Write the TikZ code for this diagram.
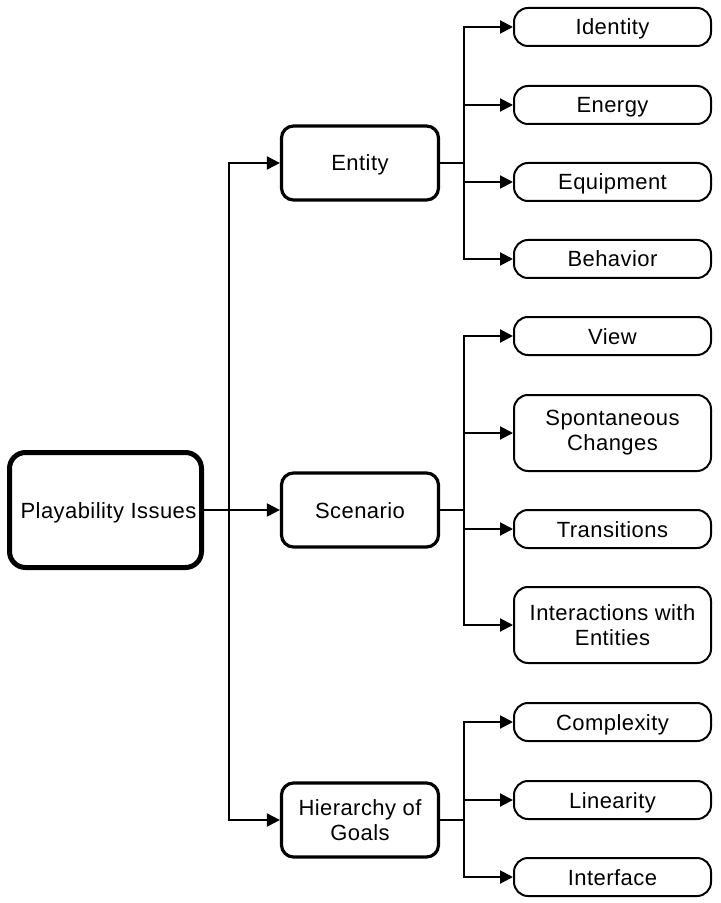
\documentclass[tikz,border=0pt]{standalone}
\usepackage{fontspec}
\setmainfont{Liberation Sans}[LetterSpace=2.0]
\usetikzlibrary{arrows.meta}
\begin{document}
\begin{tikzpicture}[x=0.5pt,y=-0.5pt,
    every node/.style={font=\fontsize{11}{12.5}\selectfont, align=center, inner sep=0pt},
    oneline/.style={text height=10pt, text depth=2pt},
    rootbox/.style={draw, oneline, line width=2.5pt, rounded corners=8pt, minimum width=96pt, minimum height=57.5pt},
    midbox/.style={draw, line width=1.6pt, rounded corners=6pt, minimum width=78.5pt, minimum height=37pt},
    leafbox/.style={draw, line width=1pt, rounded corners=7pt, minimum width=98.5pt, minimum height=19pt},
    tallleaf/.style={leafbox, minimum height=38pt},
    link/.style={line width=1pt},
    arr/.style={link, -{Triangle[length=6.5pt,width=6.5pt]}}]
    \useasboundingbox (0,0) rectangle (720,903);
    \node[rootbox] (issues) at (105.5,510) {\hspace*{3pt}Playability Issues};
    \node[midbox, oneline] (entity) at (360,163) {Entity};
    \node[midbox, oneline] (scenario) at (360,510) {Scenario};
    \node[midbox] (goals) at (360,820) {Hierarchy of\\Goals};
    \node[leafbox, oneline] (identity) at (612.5,27) {Identity};
    \node[leafbox, oneline] (energy) at (612.5,105) {Energy};
    \node[leafbox, oneline] (equipment) at (612.5,182) {Equipment};
    \node[leafbox, oneline] (behavior) at (612.5,259) {Behavior};
    \node[leafbox, oneline] (view) at (612.5,336) {View};
    \node[tallleaf] (spontaneous) at (612.5,433) {Spontaneous\\Changes};
    \node[leafbox, oneline] (transitions) at (612.5,529) {Transitions};
    \node[tallleaf] (interactions) at (612.5,625) {Interactions with\\Entities};
    \node[leafbox, oneline] (complexity) at (612.5,722) {Complexity};
    \node[leafbox, oneline] (linearity) at (612.5,800) {Linearity};
    \node[leafbox, oneline] (interface) at (612.5,877) {Interface};
    \coordinate (trunk) at (229,510);
    \coordinate (entityfork) at (464,163);
    \coordinate (scenariofork) at (464,510);
    \coordinate (goalsfork) at (464,820);
    \draw[arr] (issues.east) -- (scenario.west);
    \draw[arr] (trunk) |- (entity.west);
    \draw[arr] (trunk) |- (goals.west);
    \draw[link] (entity.east) -- (entityfork);
    \draw[arr] (entityfork) |- (identity.west);
    \draw[arr] (entityfork) |- (energy.west);
    \draw[arr] (entityfork) |- (equipment.west);
    \draw[arr] (entityfork) |- (behavior.west);
    \draw[link] (scenario.east) -- (scenariofork);
    \draw[arr] (scenariofork) |- (view.west);
    \draw[arr] (scenariofork) |- (spontaneous.west);
    \draw[arr] (scenariofork) |- (transitions.west);
    \draw[arr] (scenariofork) |- (interactions.west);
    \draw[link] (goals.east) -- (goalsfork);
    \draw[arr] (goalsfork) |- (complexity.west);
    \draw[arr] (goalsfork) |- (linearity.west);
    \draw[arr] (goalsfork) |- (interface.west);
\end{tikzpicture}
\end{document}
